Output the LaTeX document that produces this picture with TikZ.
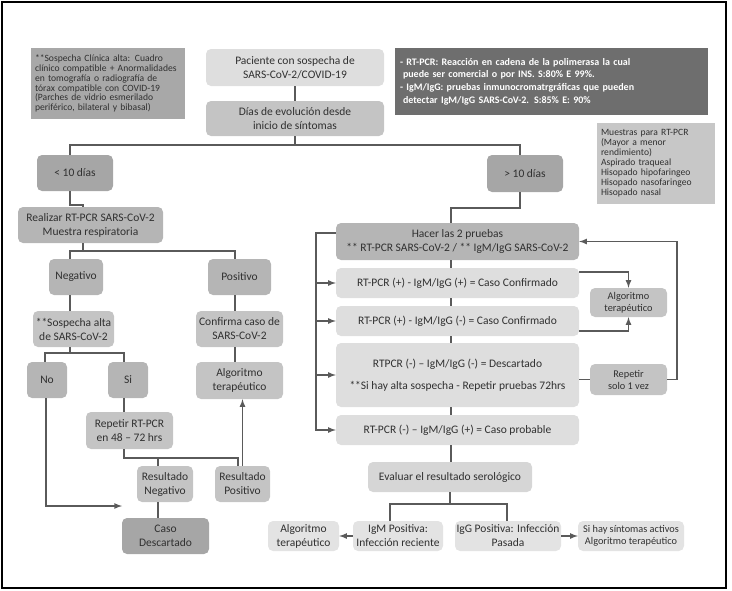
\documentclass[tikz,border=0pt]{standalone}
\usepackage{fontspec}
\setmainfont{Carlito}
\usetikzlibrary{arrows, shapes}
\definecolor{inkgray}{HTML}{303030}
\definecolor{linegray}{HTML}{5A5A5A}
\tikzstyle{box} = [rectangle, rounded corners=5pt, inner sep=0pt, align=center, text=inkgray, font=\fontsize{11.5}{14}\selectfont]
\tikzstyle{pale} = [box, fill=black!13]
\tikzstyle{soft} = [box, fill=black!23]
\tikzstyle{mid} = [box, fill=black!29]
\tikzstyle{deep} = [box, fill=black!35]
\tikzstyle{small} = [font=\fontsize{10.3}{12}\selectfont]
\tikzstyle{note} = [rectangle, inner xsep=5pt, inner ysep=0pt, align=left, text=inkgray, font=\fontsize{9.6}{9.8}\selectfont]
\tikzstyle{line} = [draw=linegray, line width=1.6pt]
\tikzstyle{arrow} = [line, -latex]

\begin{document}
\begin{tikzpicture}[x=1pt, y=1pt, yscale=-1]

\useasboundingbox (0, 0) rectangle (732, 590);
\draw [line width=1.2pt] (2, 2) rectangle (726, 588);

\node at (108, 83.5) (clinica) [note, fill=black!34, minimum width=154, minimum height=71, text width=146, inner xsep=4pt] {**Sospecha Clínica alta: Cuadro\\clínico compatible + Anormalidades\\en tomografía o radiografía de\\tórax compatible con COVID-19\\(Parches de vidrio esmerilado\\periférico, bilateral y bibasal)};
\node at (551.5, 81.5) (pruebas) [note, fill=black!57, text=white, minimum width=313, minimum height=67, text width=303, font=\fontsize{10}{12.7}\selectfont\bfseries] {- RT-PCR: Reacción en cadena de la polimerasa la cual\\\hspace*{3pt}puede ser comercial o por INS. S:80\% E 99\%.\\- IgM/IgG: pruebas inmunocromatrgráficas que pueden\\\hspace*{3pt}detectar IgM/IgG SARS-CoV-2. S:85\% E: 90\%};
\node at (656, 163.5) (muestras) [note, fill=black!22, minimum width=118, minimum height=81, text width=110, inner xsep=4pt, font=\fontsize{9.6}{10}\selectfont] {Muestras para RT-PCR\\(Mayor a menor\\rendimiento)\\* Aspirado traqueal\\*Hisopado hipofaringeo\\*Hisopado nasofaringeo\\*Hisopado nasal};

\node at (295, 67.5) (paciente) [pale, minimum width=178, minimum height=37] {Paciente con sospecha de\\SARS-CoV-2/COVID-19};
\node at (295, 118.5) (dias) [soft, minimum width=178, minimum height=35] {Días de evolución desde\\inicio de síntomas};
\node at (75, 173) (menos10) [deep, minimum width=76, minimum height=36] {< 10 días};
\node at (525, 173.5) (mayor10) [deep, minimum width=76, minimum height=37] {> 10 días};

\node at (90.5, 225) (realizar) [mid, minimum width=145, minimum height=36] {Realizar RT-PCR SARS-CoV-2\\Muestra respiratoria};
\node at (76, 277) (negativo) [mid, minimum width=54, minimum height=36] {Negativo};
\node at (239.5, 277) (positivo) [mid, minimum width=63, minimum height=36] {Positivo};
\node at (73.5, 329) (sospecha) [soft, minimum width=81, minimum height=36] {**Sospecha alta\\de SARS-CoV-2};
\node at (239.5, 329) (confirma) [soft, minimum width=87, minimum height=36] {Confirma caso de\\SARS-CoV-2};
\node at (47, 380) (no) [mid, minimum width=40, minimum height=36] {No};
\node at (128, 380) (si) [mid, minimum width=40, minimum height=36] {Si};
\node at (239.5, 380.5) (algo1) [soft, minimum width=87, minimum height=37] {Algoritmo\\terapéutico};
\node at (129.5, 430.5) (repetir) [soft, minimum width=87, minimum height=37] {Repetir RT-PCR\\en 48 – 72 hrs};
\node at (165, 484) (resneg) [soft, minimum width=56, minimum height=36] {Resultado\\Negativo};
\node at (242.5, 484) (respos) [soft, minimum width=55, minimum height=36] {Resultado\\Positivo};
\node at (165.5, 536) (caso) [deep, minimum width=87, minimum height=36] {Caso\\Descartado};

\node at (457.5, 241.5) (hacer) [mid, minimum width=243, minimum height=37] {Hacer las 2 pruebas\\** RT-PCR SARS-CoV-2 / ** IgM/IgG SARS-CoV-2};
\node at (457.5, 283) (b1) [pale, minimum width=243, minimum height=30] {RT-PCR (+) - IgM/IgG (+) = Caso Confirmado};
\node at (457.5, 321) (b2) [pale, minimum width=243, minimum height=30] {RT-PCR (+) - IgM/IgG (-) = Caso Confirmado};
\node at (457.5, 375) (b3) [pale, minimum width=243, minimum height=64] {RTPCR (-) – IgM/IgG (-) = Descartado\\[8pt]**Si hay alta sospecha - Repetir pruebas 72hrs};
\node at (457.5, 430) (b4) [pale, minimum width=243, minimum height=30] {RT-PCR (-) – IgM/IgG (+) = Caso probable};
\node at (628.5, 302.5) (algo2) [soft, small, minimum width=77, minimum height=29] {Algoritmo\\terapéutico};
\node at (628.5, 379.5) (repetir2) [soft, small, minimum width=77, minimum height=31] {Repetir\\solo 1 vez};

\node at (450, 477) (evaluar) [pale, fill=black!16, minimum width=164, minimum height=30] {Evaluar el resultado serológico};
\node at (398, 536) (igm) [pale, fill=black!11, minimum width=90, minimum height=30] {IgM Positiva:\\Infección reciente};
\node at (508, 536) (igg) [pale, fill=black!11, minimum width=106, minimum height=30] {IgG Positiva: Infección\\Pasada};
\node at (303.5, 536) (algo3) [pale, fill=black!11, minimum width=71, minimum height=30] {Algoritmo\\terapéutico};
\node at (631, 536) (sihay) [pale, fill=black!11, small, minimum width=106, minimum height=30] {Si hay síntomas activos\\Algoritmo terapéutico};

\coordinate (noend) at (122, 506);

\draw [line] (paciente) -- (dias);
\draw [line] (dias.south) -- ++(0, 9) coordinate (fork1);
\draw [line] ([xshift=-5pt]menos10.north) |- (fork1) -| ([xshift=-5pt]mayor10.north);
\draw [line] ([xshift=-5pt]menos10.south) -- ++(0, 14) -| ([xshift=-7.5pt]realizar.north);
\draw [line] ([xshift=-7.5pt]realizar.south) -- ++(0, 8) coordinate (fork2);
\draw [line] ([xshift=-6pt]negativo.north) |- (fork2) -| ([xshift=-4.5pt]positivo.north);
\draw [line] ([xshift=-6pt]negativo.south) -- ([xshift=-3.5pt]sospecha.north);
\draw [line] ([xshift=-4.5pt]positivo.south) -- ([xshift=-4.5pt]confirma.north);
\draw [line] ([xshift=-3.5pt]sospecha.south) -- ++(0, 6) coordinate (fork3);
\draw [line] ([xshift=-2pt]no.north) |- (fork3) -| ([xshift=-4pt]si.north);
\draw [line] ([xshift=-4.5pt]confirma.south) -- ([xshift=-4.5pt]algo1.north);
\draw [arrow] ([xshift=-1pt]no.south) |- (noend);
\draw [line] ([xshift=-4pt]si.south) -- ([xshift=-5.5pt]repetir.north);
\draw [line] ([xshift=-5.5pt]repetir.south) -- ++(0, 9) -| ([xshift=-4.5pt]respos.north);
\draw [line] ([xshift=-7pt]resneg.north) -- ++(0, -8);
\draw [arrow] (respos.north) -- (respos.north |- algo1.south);
\draw [line] ([xshift=-7pt]resneg.south) -- ([xshift=-7.5pt]caso.north);

\draw [line] ([xshift=-5pt]mayor10.south) -- ++(0, 16) -| ([xshift=-6.5pt]hacer.north);
\foreach \a/\b in {hacer/b1, b1/b2, b2/b3, b3/b4}
  \draw [line] ([xshift=-6.5pt]\a.south) -- ([xshift=-6.5pt]\b.north);
\draw [line] ([xshift=-6.5pt]b4.south) -- ([xshift=-6.5pt]b4.south |- evaluar.north);
\draw [arrow] ([yshift=-8.5pt]hacer.west) -- ++(-20, 0) |- (b4.west);
\foreach \b in {b1, b2, b3}
  \draw [arrow] (\b.west) ++(-20, 0) -- (\b.west);
\draw [arrow] ([yshift=-11pt]b1.east) -| (algo2.north);
\draw [arrow] ([yshift=10pt]b2.east) -| (algo2.south);
\draw [line] (repetir2.west -| b3.east) -- (repetir2.west);
\draw [arrow] (repetir2.east) -- ++(10, 0) |- (hacer.east);
\draw [line] (evaluar.south) -- ++(0, 12) coordinate (fork4);
\draw [line] ([xshift=-8pt]igm.north) |- (fork4) -| ([xshift=-1pt]igg.north);
\draw [arrow] (igm) -- (algo3);
\draw [arrow] (igg) -- (sihay);

\end{tikzpicture}
\end{document}
